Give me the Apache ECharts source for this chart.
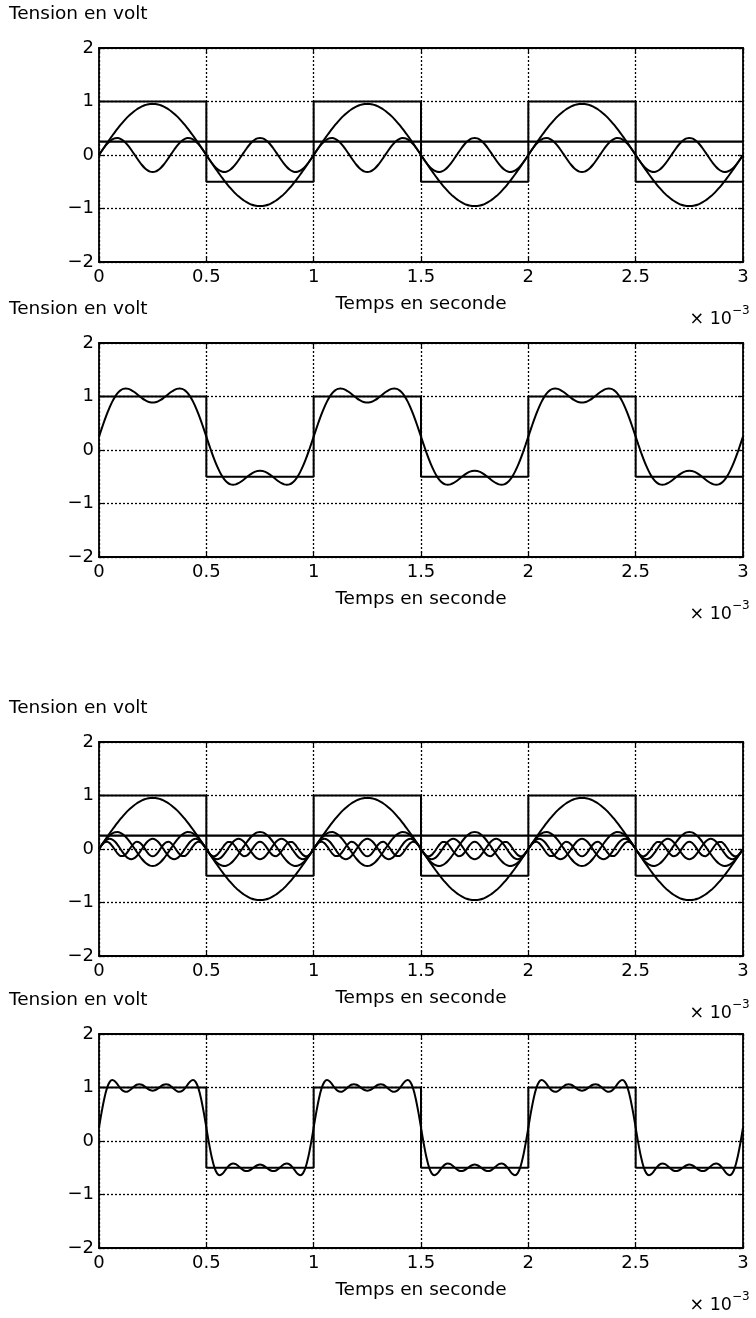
<!DOCTYPE html>
<html><head><meta charset="utf-8">
<script src="https://cdn.jsdelivr.net/npm/echarts@6/dist/echarts.min.js"></script>
<style>html,body{margin:0;padding:0;background:#fff}#c{width:756px;height:1318px}</style>
</head><body><div id="c"></div>
<script>
// ---- data ----
const xTickLabels = ['0', '0.5', '1', '1.5', '2', '2.5', '3'];
const yTickLabels = ['\u22122', '\u22121', '0', '1', '2'];
const yTitle = 'Tension en volt';
const xTitle = 'Temps en seconde';
const sampleStep = 0.0125;   // x 10^-3 s between two read samples
const periods = 3;
// square wave (corners)
const squareT = [0, 0.5, 0.5, 1, 1, 1.5, 1.5, 2, 2, 2.5, 2.5, 3];
const squareV = [1, 1, -0.5, -0.5, 1, 1, -0.5, -0.5, 1, 1, -0.5, -0.5];
// mean value (DC component)
const meanT = [0, 3];
const meanV = [0.25, 0.25];
// one period (80 samples) of each curve
const fund = [0, 0.075, 0.149, 0.223, 0.295, 0.365, 0.434, 0.499, 0.561, 0.620,
  0.675, 0.726, 0.773, 0.814, 0.851, 0.882, 0.908, 0.929, 0.943, 0.952,
  0.955, 0.952, 0.943, 0.929, 0.908, 0.882, 0.851, 0.814, 0.773, 0.726,
  0.675, 0.620, 0.561, 0.499, 0.434, 0.365, 0.295, 0.223, 0.149, 0.075,
  0, -0.075, -0.149, -0.223, -0.295, -0.365, -0.434, -0.499, -0.561, -0.620,
  -0.675, -0.726, -0.773, -0.814, -0.851, -0.882, -0.908, -0.929, -0.943, -0.952,
  -0.955, -0.952, -0.943, -0.929, -0.908, -0.882, -0.851, -0.814, -0.773, -0.726,
  -0.675, -0.620, -0.561, -0.499, -0.434, -0.365, -0.295, -0.223, -0.149, -0.075];
const harm3 = [0, 0.074, 0.145, 0.207, 0.258, 0.294, 0.314, 0.317, 0.303, 0.271,
  0.225, 0.166, 0.098, 0.025, -0.050, -0.122, -0.187, -0.242, -0.284, -0.310,
  -0.318, -0.310, -0.284, -0.242, -0.187, -0.122, -0.050, 0.025, 0.098, 0.166,
  0.225, 0.271, 0.303, 0.317, 0.314, 0.294, 0.258, 0.207, 0.145, 0.074,
  0, -0.074, -0.145, -0.207, -0.258, -0.294, -0.314, -0.317, -0.303, -0.271,
  -0.225, -0.166, -0.098, -0.025, 0.050, 0.122, 0.187, 0.242, 0.284, 0.310,
  0.318, 0.310, 0.284, 0.242, 0.187, 0.122, 0.050, -0.025, -0.098, -0.166,
  -0.225, -0.271, -0.303, -0.317, -0.314, -0.294, -0.258, -0.207, -0.145, -0.074];
const harm5 = [0, 0.073, 0.135, 0.176, 0.191, 0.176, 0.135, 0.073, 0, -0.073,
  -0.135, -0.176, -0.191, -0.176, -0.135, -0.073, 0, 0.073, 0.135, 0.176,
  0.191, 0.176, 0.135, 0.073, 0, -0.073, -0.135, -0.176, -0.191, -0.176,
  -0.135, -0.073, 0, 0.073, 0.135, 0.176, 0.191, 0.176, 0.135, 0.073,
  0, -0.073, -0.135, -0.176, -0.191, -0.176, -0.135, -0.073, 0, 0.073,
  0.135, 0.176, 0.191, 0.176, 0.135, 0.073, 0, -0.073, -0.135, -0.176,
  -0.191, -0.176, -0.135, -0.073, 0, 0.073, 0.135, 0.176, 0.191, 0.176,
  0.135, 0.073, 0, -0.073, -0.135, -0.176, -0.191, -0.176, -0.135, -0.073];
const harm7 = [0, 0.071, 0.122, 0.136, 0.110, 0.052, -0.021, -0.089, -0.130, -0.133,
  -0.096, -0.032, 0.042, 0.104, 0.135, 0.126, 0.080, 0.011, -0.062, -0.116,
  -0.136, -0.116, -0.062, 0.011, 0.080, 0.126, 0.135, 0.104, 0.042, -0.032,
  -0.096, -0.133, -0.130, -0.089, -0.021, 0.052, 0.110, 0.136, 0.122, 0.071,
  0, -0.071, -0.122, -0.136, -0.110, -0.052, 0.021, 0.089, 0.130, 0.133,
  0.096, 0.032, -0.042, -0.104, -0.135, -0.126, -0.080, -0.011, 0.062, 0.116,
  0.136, 0.116, 0.062, -0.011, -0.080, -0.126, -0.135, -0.104, -0.042, 0.032,
  0.096, 0.133, 0.130, 0.089, 0.021, -0.052, -0.110, -0.136, -0.122, -0.071];
const sum13 = [0.250, 0.399, 0.544, 0.680, 0.803, 0.909, 0.998, 1.066, 1.114, 1.142,
  1.150, 1.142, 1.121, 1.089, 1.051, 1.010, 0.971, 0.936, 0.910, 0.892,
  0.887, 0.892, 0.910, 0.936, 0.971, 1.010, 1.051, 1.089, 1.121, 1.142,
  1.150, 1.142, 1.114, 1.066, 0.998, 0.909, 0.803, 0.680, 0.544, 0.399,
  0.250, 0.101, -0.044, -0.180, -0.303, -0.409, -0.498, -0.566, -0.614, -0.642,
  -0.650, -0.642, -0.621, -0.589, -0.551, -0.510, -0.471, -0.436, -0.410, -0.392,
  -0.387, -0.392, -0.410, -0.436, -0.471, -0.510, -0.551, -0.589, -0.621, -0.642,
  -0.650, -0.642, -0.614, -0.566, -0.498, -0.409, -0.303, -0.180, -0.044, 0.101];
const sum1357 = [0.250, 0.544, 0.800, 0.992, 1.104, 1.138, 1.112, 1.051, 0.984, 0.936,
  0.919, 0.934, 0.972, 1.016, 1.051, 1.063, 1.051, 1.020, 0.983, 0.953,
  0.941, 0.953, 0.983, 1.020, 1.051, 1.063, 1.051, 1.016, 0.972, 0.934,
  0.919, 0.936, 0.984, 1.051, 1.112, 1.138, 1.104, 0.992, 0.800, 0.544,
  0.250, -0.044, -0.300, -0.492, -0.604, -0.638, -0.612, -0.551, -0.484, -0.436,
  -0.419, -0.434, -0.472, -0.516, -0.551, -0.563, -0.551, -0.520, -0.483, -0.453,
  -0.441, -0.453, -0.483, -0.520, -0.551, -0.563, -0.551, -0.516, -0.472, -0.434,
  -0.419, -0.436, -0.484, -0.551, -0.612, -0.638, -0.604, -0.492, -0.300, -0.044];

// ---- layout ----
const FONT = '"DejaVu Sans"';
const gridTops = [48, 343, 742, 1034];
const gridH = 214, gridL = 99, gridW = 644;

function tile(period) {
  const out = [];
  for (let p = 0; p < periods; p++)
    for (let k = 0; k < period.length; k++)
      out.push([(p * period.length + k) * sampleStep, period[k]]);
  out.push([periods * period.length * sampleStep, period[0]]);
  return out;
}
function pairs(xs, ys) { return xs.map((x, i) => [x, ys[i]]); }

const panels = [
  [pairs(squareT, squareV), pairs(meanT, meanV), tile(fund), tile(harm3)],
  [pairs(squareT, squareV), tile(sum13)],
  [pairs(squareT, squareV), pairs(meanT, meanV), tile(fund), tile(harm3), tile(harm5), tile(harm7)],
  [pairs(squareT, squareV), tile(sum1357)]
];

const grid = [], xAxis = [], yAxis = [], series = [], graphic = [];
const black = '#000';
const dotted = { show: true, lineStyle: { color: black, width: 1.3, type: [2, 2] } };
const frame = { show: true, onZero: false, lineStyle: { color: black, width: 1.8 } };
const ticks = { show: true, inside: true, length: 5, lineStyle: { color: black, width: 1.2 } };
panels.forEach((lines, i) => {
  const top = gridTops[i];
  grid.push({ left: gridL, top: top, width: gridW, height: gridH, show: false });
  xAxis.push({
    gridIndex: i, type: 'value', min: 0, max: 3, interval: 0.5, position: 'bottom',
    axisLine: frame, axisTick: ticks,
    axisLabel: { color: black, fontSize: 18, fontFamily: FONT, margin: 6,
      formatter: v => xTickLabels[Math.round(v / 0.5)] },
    splitLine: dotted,
    name: xTitle, nameLocation: 'middle', nameGap: 33,
    nameTextStyle: { color: black, fontSize: 18.5, fontFamily: FONT }
  });
  xAxis.push({
    gridIndex: i, type: 'value', min: 0, max: 3, interval: 0.5, position: 'top',
    axisLine: frame, axisTick: ticks,
    axisLabel: { show: false }, splitLine: { show: false }
  });
  yAxis.push({
    gridIndex: i, type: 'value', min: -2, max: 2, interval: 1, position: 'left',
    axisLine: frame, axisTick: ticks,
    axisLabel: { color: black, fontSize: 18, fontFamily: FONT, margin: 5,
      formatter: v => yTickLabels[Math.round(v) + 2] },
    splitLine: dotted
  });
  yAxis.push({
    gridIndex: i, type: 'value', min: -2, max: 2, interval: 1, position: 'right',
    axisLine: frame, axisTick: ticks,
    axisLabel: { show: false }, splitLine: { show: false }
  });
  lines.forEach((d, j) => {
    series.push({
      type: 'line', xAxisIndex: 2 * i, yAxisIndex: 2 * i, data: d,
      symbol: 'none', smooth: j === 0 ? false : 0.3, clip: true,
      lineStyle: { color: black, width: (j === 1 && (i === 0 || i === 2)) ? 2.3 : 2 },
      z: 3
    });
  });
  graphic.push({ type: 'text', left: 9, top: top - 43,
    style: { text: yTitle, fill: black, font: '18.5px ' + FONT } });
  const bottom = top + gridH;
  graphic.push({ type: 'text', x: 732, y: bottom + 57,
    style: { text: '\u00d7 10', fill: black, font: '17.5px ' + FONT, textAlign: 'right', textVerticalAlign: 'middle' } });
  graphic.push({ type: 'text', x: 732, y: bottom + 49,
    style: { text: '\u22123', fill: black, font: '12px ' + FONT, textAlign: 'left', textVerticalAlign: 'middle' } });
});

const chart = echarts.init(document.getElementById('c'), null, { renderer: 'canvas' });
chart.setOption({
  animation: false, backgroundColor: '#fff',
  grid, xAxis, yAxis, series, graphic
});
</script></body></html>
